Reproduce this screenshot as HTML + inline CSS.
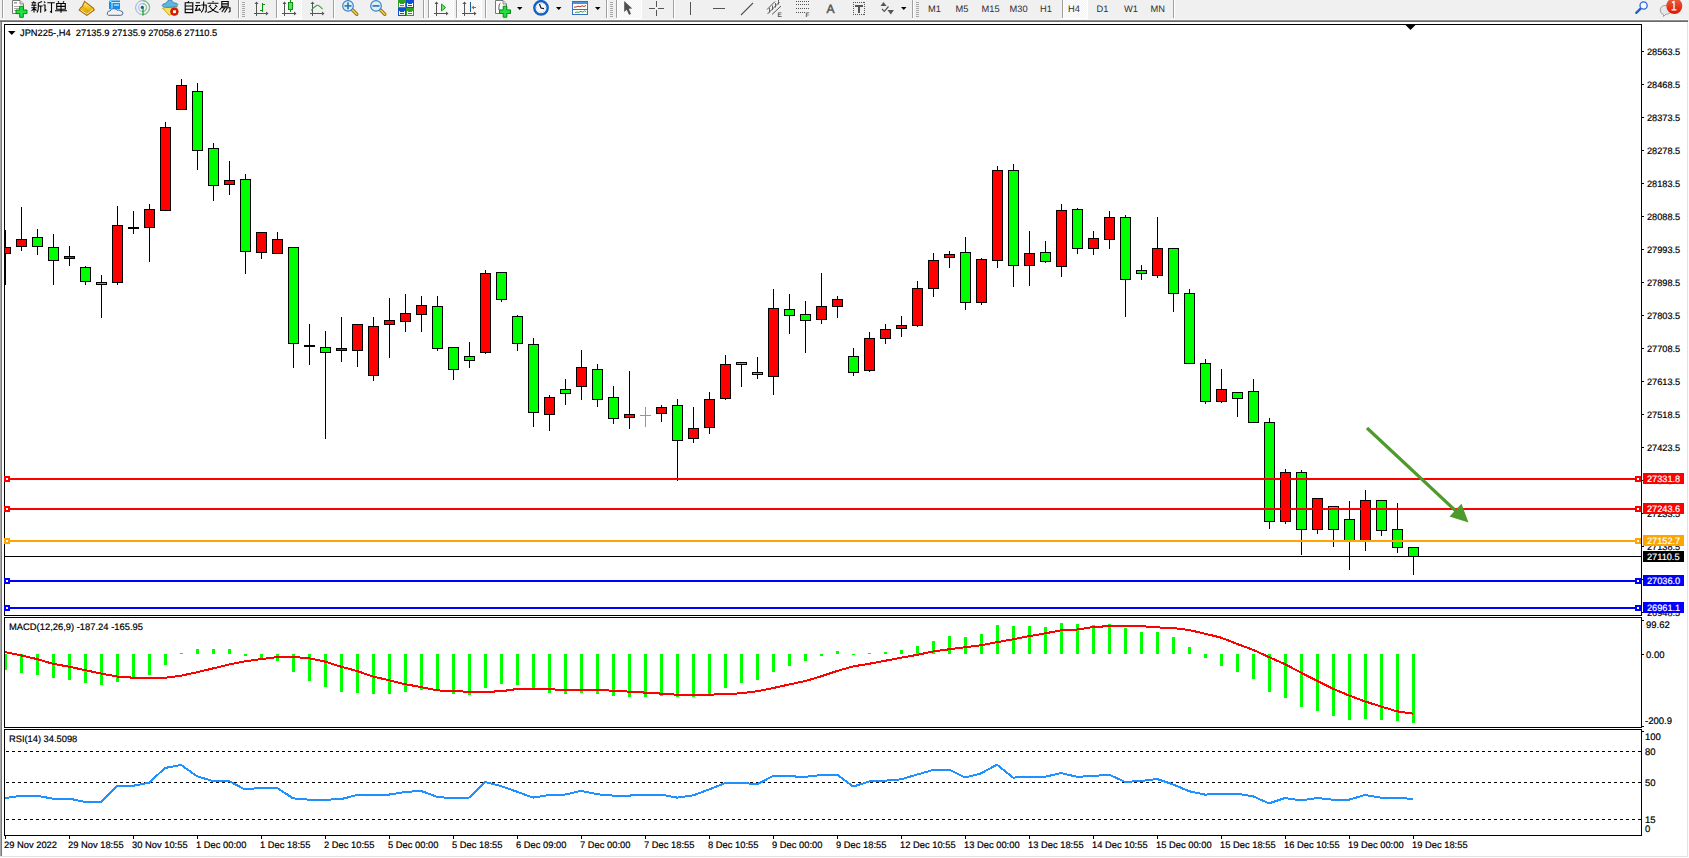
<!DOCTYPE html>
<html><head><meta charset="utf-8"><style>
html,body{margin:0;padding:0;width:1689px;height:858px;overflow:hidden;background:#f0f0f0}
svg{position:absolute;left:0;top:0;font-family:"Liberation Sans", sans-serif}
</style></head><body>
<svg width="1689" height="858" viewBox="0 0 1689 858" shape-rendering="crispEdges" text-rendering="geometricPrecision">
<rect x="0" y="0" width="1689" height="858" fill="#f0f0f0"/>
<rect x="0" y="22" width="1689" height="836" fill="#fcfcfc"/>
<rect x="2" y="22" width="1685" height="834" fill="#ffffff"/>
<rect x="0" y="20" width="1688" height="1" fill="#8c8c8c"/>
<rect x="0" y="21" width="1688" height="1" fill="#6a6a6a"/>
<rect x="0" y="19" width="1688" height="1" fill="#f8f8f8"/>
<rect x="0" y="22" width="1" height="834" fill="#a8a8a8"/>
<rect x="1" y="22" width="1" height="834" fill="#787878"/>
<rect x="1687" y="22" width="1" height="835" fill="#e3e3e3"/>
<rect x="0" y="856" width="1688" height="1" fill="#e3e3e3"/>
<rect x="4" y="24" width="1638" height="1" fill="#000"/>
<rect x="4" y="615" width="1638" height="1" fill="#000"/>
<rect x="4" y="24" width="1" height="592" fill="#000"/>
<rect x="1641" y="24" width="1" height="592" fill="#000"/>
<rect x="4" y="617" width="1638" height="1" fill="#000"/>
<rect x="4" y="727" width="1638" height="1" fill="#000"/>
<rect x="4" y="617" width="1" height="111" fill="#000"/>
<rect x="1641" y="617" width="1" height="111" fill="#000"/>
<rect x="4" y="729" width="1638" height="1" fill="#000"/>
<rect x="4" y="835" width="1638" height="1" fill="#000"/>
<rect x="4" y="729" width="1" height="107" fill="#000"/>
<rect x="1641" y="729" width="1" height="107" fill="#000"/>
<rect x="1642" y="51" width="2" height="1" fill="#000"/>
<text x="1647" y="55" font-size="9.2" fill="#000" stroke="#000" stroke-width="0.2" text-anchor="start" >28563.5</text>
<rect x="1642" y="84" width="2" height="1" fill="#000"/>
<text x="1647" y="88" font-size="9.2" fill="#000" stroke="#000" stroke-width="0.2" text-anchor="start" >28468.5</text>
<rect x="1642" y="117" width="2" height="1" fill="#000"/>
<text x="1647" y="121" font-size="9.2" fill="#000" stroke="#000" stroke-width="0.2" text-anchor="start" >28373.5</text>
<rect x="1642" y="150" width="2" height="1" fill="#000"/>
<text x="1647" y="154" font-size="9.2" fill="#000" stroke="#000" stroke-width="0.2" text-anchor="start" >28278.5</text>
<rect x="1642" y="183" width="2" height="1" fill="#000"/>
<text x="1647" y="187" font-size="9.2" fill="#000" stroke="#000" stroke-width="0.2" text-anchor="start" >28183.5</text>
<rect x="1642" y="216" width="2" height="1" fill="#000"/>
<text x="1647" y="220" font-size="9.2" fill="#000" stroke="#000" stroke-width="0.2" text-anchor="start" >28088.5</text>
<rect x="1642" y="249" width="2" height="1" fill="#000"/>
<text x="1647" y="253" font-size="9.2" fill="#000" stroke="#000" stroke-width="0.2" text-anchor="start" >27993.5</text>
<rect x="1642" y="282" width="2" height="1" fill="#000"/>
<text x="1647" y="286" font-size="9.2" fill="#000" stroke="#000" stroke-width="0.2" text-anchor="start" >27898.5</text>
<rect x="1642" y="315" width="2" height="1" fill="#000"/>
<text x="1647" y="319" font-size="9.2" fill="#000" stroke="#000" stroke-width="0.2" text-anchor="start" >27803.5</text>
<rect x="1642" y="348" width="2" height="1" fill="#000"/>
<text x="1647" y="352" font-size="9.2" fill="#000" stroke="#000" stroke-width="0.2" text-anchor="start" >27708.5</text>
<rect x="1642" y="381" width="2" height="1" fill="#000"/>
<text x="1647" y="385" font-size="9.2" fill="#000" stroke="#000" stroke-width="0.2" text-anchor="start" >27613.5</text>
<rect x="1642" y="414" width="2" height="1" fill="#000"/>
<text x="1647" y="418" font-size="9.2" fill="#000" stroke="#000" stroke-width="0.2" text-anchor="start" >27518.5</text>
<rect x="1642" y="447" width="2" height="1" fill="#000"/>
<text x="1647" y="451" font-size="9.2" fill="#000" stroke="#000" stroke-width="0.2" text-anchor="start" >27423.5</text>
<rect x="1642" y="480" width="2" height="1" fill="#000"/>
<text x="1647" y="484" font-size="9.2" fill="#000" stroke="#000" stroke-width="0.2" text-anchor="start" >27328.5</text>
<rect x="1642" y="513" width="2" height="1" fill="#000"/>
<text x="1647" y="517" font-size="9.2" fill="#000" stroke="#000" stroke-width="0.2" text-anchor="start" >27233.5</text>
<rect x="1642" y="546" width="2" height="1" fill="#000"/>
<text x="1647" y="550" font-size="9.2" fill="#000" stroke="#000" stroke-width="0.2" text-anchor="start" >27138.5</text>
<rect x="1642" y="579" width="2" height="1" fill="#000"/>
<text x="1647" y="583" font-size="9.2" fill="#000" stroke="#000" stroke-width="0.2" text-anchor="start" >27043.5</text>
<rect x="1642" y="612" width="2" height="1" fill="#000"/>
<text x="1647" y="616" font-size="9.2" fill="#000" stroke="#000" stroke-width="0.2" text-anchor="start" >26948.5</text>
<g>
<rect x="5" y="230" width="1" height="55" fill="#000"/>
<rect x="5" y="247" width="6" height="7" fill="#000"/>
<rect x="5" y="248" width="5" height="5" fill="#ff0000"/>
<rect x="21" y="207" width="1" height="44" fill="#000"/>
<rect x="16" y="239" width="11" height="8" fill="#000"/>
<rect x="17" y="240" width="9" height="6" fill="#ff0000"/>
<rect x="37" y="229" width="1" height="26" fill="#000"/>
<rect x="32" y="237" width="11" height="10" fill="#000"/>
<rect x="33" y="238" width="9" height="8" fill="#00ff00"/>
<rect x="53" y="234" width="1" height="51" fill="#000"/>
<rect x="48" y="247" width="11" height="14" fill="#000"/>
<rect x="49" y="248" width="9" height="12" fill="#00ff00"/>
<rect x="69" y="246" width="1" height="20" fill="#000"/>
<rect x="64" y="256" width="11" height="3" fill="#000"/>
<rect x="65" y="257" width="9" height="1" fill="#ff0000"/>
<rect x="85" y="266" width="1" height="19" fill="#000"/>
<rect x="80" y="267" width="11" height="15" fill="#000"/>
<rect x="81" y="268" width="9" height="13" fill="#00ff00"/>
<rect x="101" y="275" width="1" height="43" fill="#000"/>
<rect x="96" y="282" width="11" height="3" fill="#000"/>
<rect x="97" y="283" width="9" height="1" fill="#00ff00"/>
<rect x="117" y="206" width="1" height="79" fill="#000"/>
<rect x="112" y="225" width="11" height="58" fill="#000"/>
<rect x="113" y="226" width="9" height="56" fill="#ff0000"/>
<rect x="133" y="211" width="1" height="23" fill="#000"/>
<rect x="128" y="227" width="11" height="2" fill="#000"/>
<rect x="149" y="204" width="1" height="58" fill="#000"/>
<rect x="144" y="209" width="11" height="19" fill="#000"/>
<rect x="145" y="210" width="9" height="17" fill="#ff0000"/>
<rect x="165" y="122" width="1" height="89" fill="#000"/>
<rect x="160" y="127" width="11" height="84" fill="#000"/>
<rect x="161" y="128" width="9" height="82" fill="#ff0000"/>
<rect x="181" y="79" width="1" height="31" fill="#000"/>
<rect x="176" y="85" width="11" height="25" fill="#000"/>
<rect x="177" y="86" width="9" height="23" fill="#ff0000"/>
<rect x="197" y="83" width="1" height="87" fill="#000"/>
<rect x="192" y="91" width="11" height="60" fill="#000"/>
<rect x="193" y="92" width="9" height="58" fill="#00ff00"/>
<rect x="213" y="143" width="1" height="58" fill="#000"/>
<rect x="208" y="148" width="11" height="38" fill="#000"/>
<rect x="209" y="149" width="9" height="36" fill="#00ff00"/>
<rect x="229" y="161" width="1" height="34" fill="#000"/>
<rect x="224" y="180" width="11" height="5" fill="#000"/>
<rect x="225" y="181" width="9" height="3" fill="#ff0000"/>
<rect x="245" y="174" width="1" height="100" fill="#000"/>
<rect x="240" y="179" width="11" height="73" fill="#000"/>
<rect x="241" y="180" width="9" height="71" fill="#00ff00"/>
<rect x="261" y="232" width="1" height="27" fill="#000"/>
<rect x="256" y="232" width="11" height="21" fill="#000"/>
<rect x="257" y="233" width="9" height="19" fill="#ff0000"/>
<rect x="277" y="232" width="1" height="22" fill="#000"/>
<rect x="272" y="239" width="11" height="15" fill="#000"/>
<rect x="273" y="240" width="9" height="13" fill="#ff0000"/>
<rect x="293" y="247" width="1" height="121" fill="#000"/>
<rect x="288" y="247" width="11" height="97" fill="#000"/>
<rect x="289" y="248" width="9" height="95" fill="#00ff00"/>
<rect x="309" y="324" width="1" height="41" fill="#000"/>
<rect x="304" y="345" width="11" height="2" fill="#000"/>
<rect x="325" y="331" width="1" height="108" fill="#000"/>
<rect x="320" y="347" width="11" height="6" fill="#000"/>
<rect x="321" y="348" width="9" height="4" fill="#00ff00"/>
<rect x="341" y="317" width="1" height="45" fill="#000"/>
<rect x="336" y="348" width="11" height="3" fill="#000"/>
<rect x="337" y="349" width="9" height="1" fill="#ff0000"/>
<rect x="357" y="324" width="1" height="43" fill="#000"/>
<rect x="352" y="324" width="11" height="27" fill="#000"/>
<rect x="353" y="325" width="9" height="25" fill="#ff0000"/>
<rect x="373" y="317" width="1" height="64" fill="#000"/>
<rect x="368" y="326" width="11" height="50" fill="#000"/>
<rect x="369" y="327" width="9" height="48" fill="#ff0000"/>
<rect x="389" y="298" width="1" height="60" fill="#000"/>
<rect x="384" y="320" width="11" height="5" fill="#000"/>
<rect x="385" y="321" width="9" height="3" fill="#ff0000"/>
<rect x="405" y="294" width="1" height="38" fill="#000"/>
<rect x="400" y="313" width="11" height="9" fill="#000"/>
<rect x="401" y="314" width="9" height="7" fill="#ff0000"/>
<rect x="421" y="296" width="1" height="36" fill="#000"/>
<rect x="416" y="305" width="11" height="10" fill="#000"/>
<rect x="417" y="306" width="9" height="8" fill="#ff0000"/>
<rect x="437" y="296" width="1" height="55" fill="#000"/>
<rect x="432" y="306" width="11" height="43" fill="#000"/>
<rect x="433" y="307" width="9" height="41" fill="#00ff00"/>
<rect x="453" y="347" width="1" height="33" fill="#000"/>
<rect x="448" y="347" width="11" height="23" fill="#000"/>
<rect x="449" y="348" width="9" height="21" fill="#00ff00"/>
<rect x="469" y="342" width="1" height="26" fill="#000"/>
<rect x="464" y="356" width="11" height="5" fill="#000"/>
<rect x="465" y="357" width="9" height="3" fill="#00ff00"/>
<rect x="485" y="270" width="1" height="84" fill="#000"/>
<rect x="480" y="273" width="11" height="80" fill="#000"/>
<rect x="481" y="274" width="9" height="78" fill="#ff0000"/>
<rect x="501" y="272" width="1" height="30" fill="#000"/>
<rect x="496" y="272" width="11" height="28" fill="#000"/>
<rect x="497" y="273" width="9" height="26" fill="#00ff00"/>
<rect x="517" y="315" width="1" height="36" fill="#000"/>
<rect x="512" y="316" width="11" height="28" fill="#000"/>
<rect x="513" y="317" width="9" height="26" fill="#00ff00"/>
<rect x="533" y="338" width="1" height="89" fill="#000"/>
<rect x="528" y="344" width="11" height="69" fill="#000"/>
<rect x="529" y="345" width="9" height="67" fill="#00ff00"/>
<rect x="549" y="395" width="1" height="36" fill="#000"/>
<rect x="544" y="397" width="11" height="18" fill="#000"/>
<rect x="545" y="398" width="9" height="16" fill="#ff0000"/>
<rect x="565" y="379" width="1" height="26" fill="#000"/>
<rect x="560" y="389" width="11" height="5" fill="#000"/>
<rect x="561" y="390" width="9" height="3" fill="#00ff00"/>
<rect x="581" y="350" width="1" height="50" fill="#000"/>
<rect x="576" y="367" width="11" height="20" fill="#000"/>
<rect x="577" y="368" width="9" height="18" fill="#ff0000"/>
<rect x="597" y="364" width="1" height="43" fill="#000"/>
<rect x="592" y="369" width="11" height="31" fill="#000"/>
<rect x="593" y="370" width="9" height="29" fill="#00ff00"/>
<rect x="613" y="386" width="1" height="38" fill="#000"/>
<rect x="608" y="397" width="11" height="22" fill="#000"/>
<rect x="609" y="398" width="9" height="20" fill="#00ff00"/>
<rect x="629" y="371" width="1" height="58" fill="#000"/>
<rect x="624" y="414" width="11" height="4" fill="#000"/>
<rect x="625" y="415" width="9" height="2" fill="#ff0000"/>
<rect x="645" y="407" width="1" height="20" fill="#00ff00"/>
<rect x="640" y="415" width="11" height="1" fill="#00ff00"/>
<rect x="661" y="405" width="1" height="17" fill="#000"/>
<rect x="656" y="407" width="11" height="7" fill="#000"/>
<rect x="657" y="408" width="9" height="5" fill="#ff0000"/>
<rect x="677" y="399" width="1" height="82" fill="#000"/>
<rect x="672" y="405" width="11" height="36" fill="#000"/>
<rect x="673" y="406" width="9" height="34" fill="#00ff00"/>
<rect x="693" y="407" width="1" height="36" fill="#000"/>
<rect x="688" y="428" width="11" height="11" fill="#000"/>
<rect x="689" y="429" width="9" height="9" fill="#ff0000"/>
<rect x="709" y="392" width="1" height="42" fill="#000"/>
<rect x="704" y="399" width="11" height="29" fill="#000"/>
<rect x="705" y="400" width="9" height="27" fill="#ff0000"/>
<rect x="725" y="355" width="1" height="45" fill="#000"/>
<rect x="720" y="364" width="11" height="35" fill="#000"/>
<rect x="721" y="365" width="9" height="33" fill="#ff0000"/>
<rect x="741" y="362" width="1" height="25" fill="#000"/>
<rect x="736" y="362" width="11" height="3" fill="#000"/>
<rect x="737" y="363" width="9" height="1" fill="#00ff00"/>
<rect x="757" y="357" width="1" height="22" fill="#000"/>
<rect x="752" y="372" width="11" height="3" fill="#000"/>
<rect x="753" y="373" width="9" height="1" fill="#00ff00"/>
<rect x="773" y="289" width="1" height="106" fill="#000"/>
<rect x="768" y="308" width="11" height="69" fill="#000"/>
<rect x="769" y="309" width="9" height="67" fill="#ff0000"/>
<rect x="789" y="294" width="1" height="40" fill="#000"/>
<rect x="784" y="309" width="11" height="7" fill="#000"/>
<rect x="785" y="310" width="9" height="5" fill="#00ff00"/>
<rect x="805" y="301" width="1" height="52" fill="#000"/>
<rect x="800" y="314" width="11" height="7" fill="#000"/>
<rect x="801" y="315" width="9" height="5" fill="#00ff00"/>
<rect x="821" y="273" width="1" height="51" fill="#000"/>
<rect x="816" y="306" width="11" height="14" fill="#000"/>
<rect x="817" y="307" width="9" height="12" fill="#ff0000"/>
<rect x="837" y="296" width="1" height="22" fill="#000"/>
<rect x="832" y="299" width="11" height="8" fill="#000"/>
<rect x="833" y="300" width="9" height="6" fill="#ff0000"/>
<rect x="853" y="348" width="1" height="28" fill="#000"/>
<rect x="848" y="356" width="11" height="17" fill="#000"/>
<rect x="849" y="357" width="9" height="15" fill="#00ff00"/>
<rect x="869" y="332" width="1" height="40" fill="#000"/>
<rect x="864" y="338" width="11" height="33" fill="#000"/>
<rect x="865" y="339" width="9" height="31" fill="#ff0000"/>
<rect x="885" y="324" width="1" height="20" fill="#000"/>
<rect x="880" y="329" width="11" height="10" fill="#000"/>
<rect x="881" y="330" width="9" height="8" fill="#ff0000"/>
<rect x="901" y="316" width="1" height="21" fill="#000"/>
<rect x="896" y="325" width="11" height="4" fill="#000"/>
<rect x="897" y="326" width="9" height="2" fill="#ff0000"/>
<rect x="917" y="281" width="1" height="46" fill="#000"/>
<rect x="912" y="288" width="11" height="38" fill="#000"/>
<rect x="913" y="289" width="9" height="36" fill="#ff0000"/>
<rect x="933" y="253" width="1" height="44" fill="#000"/>
<rect x="928" y="260" width="11" height="29" fill="#000"/>
<rect x="929" y="261" width="9" height="27" fill="#ff0000"/>
<rect x="949" y="251" width="1" height="17" fill="#000"/>
<rect x="944" y="254" width="11" height="4" fill="#000"/>
<rect x="945" y="255" width="9" height="2" fill="#ff0000"/>
<rect x="965" y="237" width="1" height="73" fill="#000"/>
<rect x="960" y="252" width="11" height="51" fill="#000"/>
<rect x="961" y="253" width="9" height="49" fill="#00ff00"/>
<rect x="981" y="258" width="1" height="47" fill="#000"/>
<rect x="976" y="259" width="11" height="44" fill="#000"/>
<rect x="977" y="260" width="9" height="42" fill="#ff0000"/>
<rect x="997" y="166" width="1" height="102" fill="#000"/>
<rect x="992" y="170" width="11" height="91" fill="#000"/>
<rect x="993" y="171" width="9" height="89" fill="#ff0000"/>
<rect x="1013" y="164" width="1" height="123" fill="#000"/>
<rect x="1008" y="170" width="11" height="96" fill="#000"/>
<rect x="1009" y="171" width="9" height="94" fill="#00ff00"/>
<rect x="1029" y="231" width="1" height="55" fill="#000"/>
<rect x="1024" y="253" width="11" height="13" fill="#000"/>
<rect x="1025" y="254" width="9" height="11" fill="#ff0000"/>
<rect x="1045" y="241" width="1" height="22" fill="#000"/>
<rect x="1040" y="252" width="11" height="10" fill="#000"/>
<rect x="1041" y="253" width="9" height="8" fill="#00ff00"/>
<rect x="1061" y="204" width="1" height="73" fill="#000"/>
<rect x="1056" y="210" width="11" height="57" fill="#000"/>
<rect x="1057" y="211" width="9" height="55" fill="#ff0000"/>
<rect x="1077" y="208" width="1" height="46" fill="#000"/>
<rect x="1072" y="209" width="11" height="40" fill="#000"/>
<rect x="1073" y="210" width="9" height="38" fill="#00ff00"/>
<rect x="1093" y="231" width="1" height="24" fill="#000"/>
<rect x="1088" y="238" width="11" height="11" fill="#000"/>
<rect x="1089" y="239" width="9" height="9" fill="#ff0000"/>
<rect x="1109" y="211" width="1" height="38" fill="#000"/>
<rect x="1104" y="217" width="11" height="23" fill="#000"/>
<rect x="1105" y="218" width="9" height="21" fill="#ff0000"/>
<rect x="1125" y="215" width="1" height="102" fill="#000"/>
<rect x="1120" y="217" width="11" height="63" fill="#000"/>
<rect x="1121" y="218" width="9" height="61" fill="#00ff00"/>
<rect x="1141" y="265" width="1" height="15" fill="#000"/>
<rect x="1136" y="270" width="11" height="4" fill="#000"/>
<rect x="1137" y="271" width="9" height="2" fill="#00ff00"/>
<rect x="1157" y="217" width="1" height="61" fill="#000"/>
<rect x="1152" y="248" width="11" height="28" fill="#000"/>
<rect x="1153" y="249" width="9" height="26" fill="#ff0000"/>
<rect x="1173" y="248" width="1" height="64" fill="#000"/>
<rect x="1168" y="248" width="11" height="46" fill="#000"/>
<rect x="1169" y="249" width="9" height="44" fill="#00ff00"/>
<rect x="1189" y="289" width="1" height="75" fill="#000"/>
<rect x="1184" y="293" width="11" height="71" fill="#000"/>
<rect x="1185" y="294" width="9" height="69" fill="#00ff00"/>
<rect x="1205" y="359" width="1" height="45" fill="#000"/>
<rect x="1200" y="363" width="11" height="39" fill="#000"/>
<rect x="1201" y="364" width="9" height="37" fill="#00ff00"/>
<rect x="1221" y="369" width="1" height="34" fill="#000"/>
<rect x="1216" y="389" width="11" height="13" fill="#000"/>
<rect x="1217" y="390" width="9" height="11" fill="#ff0000"/>
<rect x="1237" y="392" width="1" height="25" fill="#000"/>
<rect x="1232" y="392" width="11" height="7" fill="#000"/>
<rect x="1233" y="393" width="9" height="5" fill="#00ff00"/>
<rect x="1253" y="379" width="1" height="44" fill="#000"/>
<rect x="1248" y="391" width="11" height="32" fill="#000"/>
<rect x="1249" y="392" width="9" height="30" fill="#00ff00"/>
<rect x="1269" y="418" width="1" height="111" fill="#000"/>
<rect x="1264" y="422" width="11" height="100" fill="#000"/>
<rect x="1265" y="423" width="9" height="98" fill="#00ff00"/>
<rect x="1285" y="469" width="1" height="55" fill="#000"/>
<rect x="1280" y="472" width="11" height="50" fill="#000"/>
<rect x="1281" y="473" width="9" height="48" fill="#ff0000"/>
<rect x="1301" y="470" width="1" height="85" fill="#000"/>
<rect x="1296" y="472" width="11" height="58" fill="#000"/>
<rect x="1297" y="473" width="9" height="56" fill="#00ff00"/>
<rect x="1317" y="498" width="1" height="36" fill="#000"/>
<rect x="1312" y="498" width="11" height="32" fill="#000"/>
<rect x="1313" y="499" width="9" height="30" fill="#ff0000"/>
<rect x="1333" y="506" width="1" height="41" fill="#000"/>
<rect x="1328" y="506" width="11" height="24" fill="#000"/>
<rect x="1329" y="507" width="9" height="22" fill="#00ff00"/>
<rect x="1349" y="501" width="1" height="69" fill="#000"/>
<rect x="1344" y="519" width="11" height="22" fill="#000"/>
<rect x="1345" y="520" width="9" height="20" fill="#00ff00"/>
<rect x="1365" y="490" width="1" height="61" fill="#000"/>
<rect x="1360" y="500" width="11" height="41" fill="#000"/>
<rect x="1361" y="501" width="9" height="39" fill="#ff0000"/>
<rect x="1381" y="500" width="1" height="36" fill="#000"/>
<rect x="1376" y="500" width="11" height="31" fill="#000"/>
<rect x="1377" y="501" width="9" height="29" fill="#00ff00"/>
<rect x="1397" y="503" width="1" height="50" fill="#000"/>
<rect x="1392" y="529" width="11" height="19" fill="#000"/>
<rect x="1393" y="530" width="9" height="17" fill="#00ff00"/>
<rect x="1413" y="547" width="1" height="28" fill="#000"/>
<rect x="1408" y="547" width="11" height="10" fill="#000"/>
<rect x="1409" y="548" width="9" height="8" fill="#00ff00"/>
</g>
<rect x="5" y="478" width="1636" height="2" fill="#ff0000"/>
<rect x="4" y="476" width="6" height="6" fill="#ff0000"/>
<rect x="6" y="478" width="2" height="2" fill="#fff"/>
<rect x="1635" y="476" width="6" height="6" fill="#ff0000"/>
<rect x="1637" y="478" width="2" height="2" fill="#fff"/>
<rect x="5" y="508" width="1636" height="2" fill="#ff0000"/>
<rect x="4" y="506" width="6" height="6" fill="#ff0000"/>
<rect x="6" y="508" width="2" height="2" fill="#fff"/>
<rect x="1635" y="506" width="6" height="6" fill="#ff0000"/>
<rect x="1637" y="508" width="2" height="2" fill="#fff"/>
<rect x="5" y="540" width="1636" height="2" fill="#ffa500"/>
<rect x="4" y="538" width="6" height="6" fill="#ffa500"/>
<rect x="6" y="540" width="2" height="2" fill="#fff"/>
<rect x="1635" y="538" width="6" height="6" fill="#ffa500"/>
<rect x="1637" y="540" width="2" height="2" fill="#fff"/>
<rect x="5" y="556" width="1636" height="1" fill="#000"/>
<rect x="5" y="580" width="1636" height="2" fill="#0000ff"/>
<rect x="4" y="578" width="6" height="6" fill="#0000ff"/>
<rect x="6" y="580" width="2" height="2" fill="#fff"/>
<rect x="1635" y="578" width="6" height="6" fill="#0000ff"/>
<rect x="1637" y="580" width="2" height="2" fill="#fff"/>
<rect x="5" y="607" width="1636" height="2" fill="#0000ff"/>
<rect x="4" y="605" width="6" height="6" fill="#0000ff"/>
<rect x="6" y="607" width="2" height="2" fill="#fff"/>
<rect x="1635" y="605" width="6" height="6" fill="#0000ff"/>
<rect x="1637" y="607" width="2" height="2" fill="#fff"/>
<rect x="1643" y="473" width="41" height="11" fill="#ff0000"/>
<text x="1647" y="482" font-size="9.2" fill="#fff" stroke="#fff" stroke-width="0.2" text-anchor="start" >27331.8</text>
<rect x="1643" y="503" width="41" height="11" fill="#ff0000"/>
<text x="1647" y="512" font-size="9.2" fill="#fff" stroke="#fff" stroke-width="0.2" text-anchor="start" >27243.6</text>
<rect x="1643" y="535" width="41" height="11" fill="#ffa500"/>
<text x="1647" y="544" font-size="9.2" fill="#fff" stroke="#fff" stroke-width="0.2" text-anchor="start" >27152.7</text>
<rect x="1643" y="551" width="41" height="11" fill="#000000"/>
<text x="1647" y="560" font-size="9.2" fill="#fff" stroke="#fff" stroke-width="0.2" text-anchor="start" >27110.5</text>
<rect x="1643" y="575" width="41" height="11" fill="#0000ff"/>
<text x="1647" y="584" font-size="9.2" fill="#fff" stroke="#fff" stroke-width="0.2" text-anchor="start" >27036.0</text>
<rect x="1643" y="602" width="41" height="11" fill="#0000ff"/>
<text x="1647" y="611" font-size="9.2" fill="#fff" stroke="#fff" stroke-width="0.2" text-anchor="start" >26961.1</text>
<g shape-rendering="geometricPrecision">
<line x1="1367" y1="428" x2="1458" y2="513" stroke="#4e9a2c" stroke-width="3.2"/>
<polygon points="1468.5,522.5 1449.5,516.5 1461.5,503.8" fill="#4e9a2c"/>
</g>
<polygon points="1405.5,25 1415.5,25 1410.5,30" fill="#000" shape-rendering="geometricPrecision"/>
<rect x="5" y="654" width="2" height="16" fill="#00ff00"/>
<rect x="20" y="654" width="3" height="19" fill="#00ff00"/>
<rect x="36" y="654" width="3" height="21" fill="#00ff00"/>
<rect x="52" y="654" width="3" height="24" fill="#00ff00"/>
<rect x="68" y="654" width="3" height="26" fill="#00ff00"/>
<rect x="84" y="654" width="3" height="29" fill="#00ff00"/>
<rect x="100" y="654" width="3" height="31" fill="#00ff00"/>
<rect x="116" y="654" width="3" height="28" fill="#00ff00"/>
<rect x="132" y="654" width="3" height="25" fill="#00ff00"/>
<rect x="148" y="654" width="3" height="21" fill="#00ff00"/>
<rect x="164" y="654" width="3" height="11" fill="#00ff00"/>
<rect x="180" y="653" width="3" height="1" fill="#00ff00"/>
<rect x="196" y="649" width="3" height="5" fill="#00ff00"/>
<rect x="212" y="649" width="3" height="5" fill="#00ff00"/>
<rect x="228" y="649" width="3" height="5" fill="#00ff00"/>
<rect x="244" y="654" width="3" height="2" fill="#00ff00"/>
<rect x="260" y="654" width="3" height="6" fill="#00ff00"/>
<rect x="276" y="654" width="3" height="7" fill="#00ff00"/>
<rect x="292" y="654" width="3" height="18" fill="#00ff00"/>
<rect x="308" y="654" width="3" height="27" fill="#00ff00"/>
<rect x="324" y="654" width="3" height="33" fill="#00ff00"/>
<rect x="340" y="654" width="3" height="38" fill="#00ff00"/>
<rect x="356" y="654" width="3" height="39" fill="#00ff00"/>
<rect x="372" y="654" width="3" height="40" fill="#00ff00"/>
<rect x="388" y="654" width="3" height="40" fill="#00ff00"/>
<rect x="404" y="654" width="3" height="38" fill="#00ff00"/>
<rect x="420" y="654" width="3" height="36" fill="#00ff00"/>
<rect x="436" y="654" width="3" height="37" fill="#00ff00"/>
<rect x="452" y="654" width="3" height="40" fill="#00ff00"/>
<rect x="468" y="654" width="3" height="41" fill="#00ff00"/>
<rect x="484" y="654" width="3" height="34" fill="#00ff00"/>
<rect x="500" y="654" width="3" height="30" fill="#00ff00"/>
<rect x="516" y="654" width="3" height="31" fill="#00ff00"/>
<rect x="532" y="654" width="3" height="35" fill="#00ff00"/>
<rect x="548" y="654" width="3" height="39" fill="#00ff00"/>
<rect x="564" y="654" width="3" height="40" fill="#00ff00"/>
<rect x="580" y="654" width="3" height="39" fill="#00ff00"/>
<rect x="596" y="654" width="3" height="40" fill="#00ff00"/>
<rect x="612" y="654" width="3" height="42" fill="#00ff00"/>
<rect x="628" y="654" width="3" height="43" fill="#00ff00"/>
<rect x="644" y="654" width="3" height="43" fill="#00ff00"/>
<rect x="660" y="654" width="3" height="42" fill="#00ff00"/>
<rect x="676" y="654" width="3" height="43" fill="#00ff00"/>
<rect x="692" y="654" width="3" height="43" fill="#00ff00"/>
<rect x="708" y="654" width="3" height="40" fill="#00ff00"/>
<rect x="724" y="654" width="3" height="34" fill="#00ff00"/>
<rect x="740" y="654" width="3" height="29" fill="#00ff00"/>
<rect x="756" y="654" width="3" height="26" fill="#00ff00"/>
<rect x="772" y="654" width="3" height="18" fill="#00ff00"/>
<rect x="788" y="654" width="3" height="12" fill="#00ff00"/>
<rect x="804" y="654" width="3" height="7" fill="#00ff00"/>
<rect x="820" y="654" width="3" height="2" fill="#00ff00"/>
<rect x="836" y="651" width="3" height="3" fill="#00ff00"/>
<rect x="852" y="654" width="3" height="1" fill="#00ff00"/>
<rect x="868" y="653" width="3" height="1" fill="#00ff00"/>
<rect x="884" y="652" width="3" height="2" fill="#00ff00"/>
<rect x="900" y="650" width="3" height="4" fill="#00ff00"/>
<rect x="916" y="646" width="3" height="8" fill="#00ff00"/>
<rect x="932" y="641" width="3" height="13" fill="#00ff00"/>
<rect x="948" y="636" width="3" height="18" fill="#00ff00"/>
<rect x="964" y="637" width="3" height="17" fill="#00ff00"/>
<rect x="980" y="634" width="3" height="20" fill="#00ff00"/>
<rect x="996" y="625" width="3" height="29" fill="#00ff00"/>
<rect x="1012" y="626" width="3" height="28" fill="#00ff00"/>
<rect x="1028" y="626" width="3" height="28" fill="#00ff00"/>
<rect x="1044" y="627" width="3" height="27" fill="#00ff00"/>
<rect x="1060" y="623" width="3" height="31" fill="#00ff00"/>
<rect x="1076" y="624" width="3" height="30" fill="#00ff00"/>
<rect x="1092" y="625" width="3" height="29" fill="#00ff00"/>
<rect x="1108" y="624" width="3" height="30" fill="#00ff00"/>
<rect x="1124" y="628" width="3" height="26" fill="#00ff00"/>
<rect x="1140" y="632" width="3" height="22" fill="#00ff00"/>
<rect x="1156" y="632" width="3" height="22" fill="#00ff00"/>
<rect x="1172" y="637" width="3" height="17" fill="#00ff00"/>
<rect x="1188" y="647" width="3" height="7" fill="#00ff00"/>
<rect x="1204" y="654" width="3" height="4" fill="#00ff00"/>
<rect x="1220" y="654" width="3" height="12" fill="#00ff00"/>
<rect x="1236" y="654" width="3" height="18" fill="#00ff00"/>
<rect x="1252" y="654" width="3" height="25" fill="#00ff00"/>
<rect x="1268" y="654" width="3" height="38" fill="#00ff00"/>
<rect x="1284" y="654" width="3" height="44" fill="#00ff00"/>
<rect x="1300" y="654" width="3" height="53" fill="#00ff00"/>
<rect x="1316" y="654" width="3" height="57" fill="#00ff00"/>
<rect x="1332" y="654" width="3" height="62" fill="#00ff00"/>
<rect x="1348" y="654" width="3" height="66" fill="#00ff00"/>
<rect x="1364" y="654" width="3" height="65" fill="#00ff00"/>
<rect x="1380" y="654" width="3" height="66" fill="#00ff00"/>
<rect x="1396" y="654" width="3" height="67" fill="#00ff00"/>
<rect x="1412" y="654" width="3" height="69" fill="#00ff00"/>
<polyline points="5,652.0 21,655.4 37,659.1 53,663.8 69,666.7 85,670.1 101,673.5 117,676.5 133,677.7 149,677.7 165,677.7 181,675.7 197,672.3 213,668.4 229,664.5 245,661.3 261,659.1 277,657.1 293,656.9 309,658.3 325,661.6 341,666.7 357,671.0 373,676.5 389,680.3 405,684.2 421,687.0 437,690.4 453,691.0 469,691.8 485,691.8 501,691.3 517,689.0 533,689.0 549,689.2 565,690.0 581,689.7 597,689.7 613,690.8 629,691.6 645,692.6 661,693.6 677,694.7 693,694.7 709,694.7 725,694.1 741,693.3 757,691.3 773,688.1 789,684.5 805,681.1 821,676.4 837,671.0 853,666.4 869,663.8 885,660.8 901,657.7 917,654.9 933,651.5 949,649.3 965,647.3 981,645.2 997,642.2 1013,639.3 1029,636.2 1045,633.4 1061,630.3 1077,629.5 1093,627.1 1109,626.1 1125,625.7 1141,626.1 1157,627.4 1173,628.0 1189,630.0 1205,633.7 1221,637.6 1237,643.9 1253,649.8 1269,657.1 1285,664.2 1301,672.6 1317,680.8 1333,688.7 1349,695.5 1365,701.4 1381,706.5 1397,711.3 1413,713.6" fill="none" stroke="#ff0000" stroke-width="2" stroke-linejoin="round"/>
<text x="9" y="630" font-size="9.4" fill="#000" stroke="#000" stroke-width="0.2" text-anchor="start" >MACD(12,26,9) -187.24 -165.95</text>
<rect x="1642" y="620" width="2" height="1" fill="#000"/>
<text x="1646" y="628" font-size="9.5" fill="#000" stroke="#000" stroke-width="0.2" text-anchor="start" >99.62</text>
<rect x="1642" y="654" width="2" height="1" fill="#000"/>
<text x="1646" y="658" font-size="9.5" fill="#000" stroke="#000" stroke-width="0.2" text-anchor="start" >0.00</text>
<rect x="1642" y="726" width="2" height="1" fill="#000"/>
<text x="1645" y="724" font-size="9.5" fill="#000" stroke="#000" stroke-width="0.2" text-anchor="start" >-200.9</text>
<line x1="6" y1="751.5" x2="1641" y2="751.5" stroke="#000" stroke-width="1" stroke-dasharray="3,3"/>
<line x1="6" y1="782.5" x2="1641" y2="782.5" stroke="#000" stroke-width="1" stroke-dasharray="3,3"/>
<line x1="6" y1="819.5" x2="1641" y2="819.5" stroke="#000" stroke-width="1" stroke-dasharray="3,3"/>
<polyline points="5,798.0 21,795.9 37,795.9 53,798.6 69,798.6 85,801.9 101,801.9 117,786.1 133,785.8 149,782.7 165,768.0 181,764.9 197,776.3 213,781.0 229,781.0 245,789.5 261,787.8 277,787.8 293,798.3 309,799.7 325,799.7 341,799.2 357,795.0 373,794.6 389,794.6 405,792.0 421,790.9 437,796.8 453,798.5 469,797.6 485,781.9 501,786.1 517,791.7 533,797.6 549,795.0 565,794.6 581,790.9 597,794.2 613,795.6 629,795.6 645,794.6 661,794.6 677,797.6 693,795.4 709,789.5 725,783.2 741,782.7 757,784.4 773,776.0 789,776.3 805,776.8 821,775.1 837,774.6 853,786.6 869,781.5 885,780.7 901,779.3 917,774.6 933,770.0 949,769.5 965,777.6 981,773.4 997,764.6 1013,777.6 1029,776.8 1045,776.8 1061,773.1 1077,776.8 1093,776.0 1109,774.6 1125,781.9 1141,781.0 1157,779.0 1173,784.4 1189,791.2 1205,794.6 1221,793.7 1237,793.7 1253,796.3 1269,803.4 1285,798.0 1301,800.5 1317,798.0 1333,799.7 1349,799.7 1365,795.0 1381,797.6 1397,798.0 1413,798.8" fill="none" stroke="#1e90ff" stroke-width="2" stroke-linejoin="round"/>
<text x="9" y="742" font-size="9.3" fill="#000" stroke="#000" stroke-width="0.2" text-anchor="start" >RSI(14) 34.5098</text>
<text x="1645" y="740" font-size="9.5" fill="#000" stroke="#000" stroke-width="0.2" text-anchor="start" >100</text>
<text x="1645" y="755" font-size="9.5" fill="#000" stroke="#000" stroke-width="0.2" text-anchor="start" >80</text>
<text x="1645" y="786" font-size="9.5" fill="#000" stroke="#000" stroke-width="0.2" text-anchor="start" >50</text>
<text x="1645" y="823" font-size="9.5" fill="#000" stroke="#000" stroke-width="0.2" text-anchor="start" >15</text>
<text x="1645" y="832" font-size="9.5" fill="#000" stroke="#000" stroke-width="0.2" text-anchor="start" >0</text>
<rect x="1642" y="731" width="2" height="1" fill="#000"/>
<rect x="5" y="836" width="1" height="3" fill="#000"/>
<text x="4" y="848" font-size="9.35" fill="#000" stroke="#000" stroke-width="0.2" text-anchor="start" >29 Nov 2022</text>
<rect x="69" y="836" width="1" height="3" fill="#000"/>
<text x="68" y="848" font-size="9.35" fill="#000" stroke="#000" stroke-width="0.2" text-anchor="start" >29 Nov 18:55</text>
<rect x="133" y="836" width="1" height="3" fill="#000"/>
<text x="132" y="848" font-size="9.35" fill="#000" stroke="#000" stroke-width="0.2" text-anchor="start" >30 Nov 10:55</text>
<rect x="197" y="836" width="1" height="3" fill="#000"/>
<text x="196" y="848" font-size="9.35" fill="#000" stroke="#000" stroke-width="0.2" text-anchor="start" >1 Dec 00:00</text>
<rect x="261" y="836" width="1" height="3" fill="#000"/>
<text x="260" y="848" font-size="9.35" fill="#000" stroke="#000" stroke-width="0.2" text-anchor="start" >1 Dec 18:55</text>
<rect x="325" y="836" width="1" height="3" fill="#000"/>
<text x="324" y="848" font-size="9.35" fill="#000" stroke="#000" stroke-width="0.2" text-anchor="start" >2 Dec 10:55</text>
<rect x="389" y="836" width="1" height="3" fill="#000"/>
<text x="388" y="848" font-size="9.35" fill="#000" stroke="#000" stroke-width="0.2" text-anchor="start" >5 Dec 00:00</text>
<rect x="453" y="836" width="1" height="3" fill="#000"/>
<text x="452" y="848" font-size="9.35" fill="#000" stroke="#000" stroke-width="0.2" text-anchor="start" >5 Dec 18:55</text>
<rect x="517" y="836" width="1" height="3" fill="#000"/>
<text x="516" y="848" font-size="9.35" fill="#000" stroke="#000" stroke-width="0.2" text-anchor="start" >6 Dec 09:00</text>
<rect x="581" y="836" width="1" height="3" fill="#000"/>
<text x="580" y="848" font-size="9.35" fill="#000" stroke="#000" stroke-width="0.2" text-anchor="start" >7 Dec 00:00</text>
<rect x="645" y="836" width="1" height="3" fill="#000"/>
<text x="644" y="848" font-size="9.35" fill="#000" stroke="#000" stroke-width="0.2" text-anchor="start" >7 Dec 18:55</text>
<rect x="709" y="836" width="1" height="3" fill="#000"/>
<text x="708" y="848" font-size="9.35" fill="#000" stroke="#000" stroke-width="0.2" text-anchor="start" >8 Dec 10:55</text>
<rect x="773" y="836" width="1" height="3" fill="#000"/>
<text x="772" y="848" font-size="9.35" fill="#000" stroke="#000" stroke-width="0.2" text-anchor="start" >9 Dec 00:00</text>
<rect x="837" y="836" width="1" height="3" fill="#000"/>
<text x="836" y="848" font-size="9.35" fill="#000" stroke="#000" stroke-width="0.2" text-anchor="start" >9 Dec 18:55</text>
<rect x="901" y="836" width="1" height="3" fill="#000"/>
<text x="900" y="848" font-size="9.35" fill="#000" stroke="#000" stroke-width="0.2" text-anchor="start" >12 Dec 10:55</text>
<rect x="965" y="836" width="1" height="3" fill="#000"/>
<text x="964" y="848" font-size="9.35" fill="#000" stroke="#000" stroke-width="0.2" text-anchor="start" >13 Dec 00:00</text>
<rect x="1029" y="836" width="1" height="3" fill="#000"/>
<text x="1028" y="848" font-size="9.35" fill="#000" stroke="#000" stroke-width="0.2" text-anchor="start" >13 Dec 18:55</text>
<rect x="1093" y="836" width="1" height="3" fill="#000"/>
<text x="1092" y="848" font-size="9.35" fill="#000" stroke="#000" stroke-width="0.2" text-anchor="start" >14 Dec 10:55</text>
<rect x="1157" y="836" width="1" height="3" fill="#000"/>
<text x="1156" y="848" font-size="9.35" fill="#000" stroke="#000" stroke-width="0.2" text-anchor="start" >15 Dec 00:00</text>
<rect x="1221" y="836" width="1" height="3" fill="#000"/>
<text x="1220" y="848" font-size="9.35" fill="#000" stroke="#000" stroke-width="0.2" text-anchor="start" >15 Dec 18:55</text>
<rect x="1285" y="836" width="1" height="3" fill="#000"/>
<text x="1284" y="848" font-size="9.35" fill="#000" stroke="#000" stroke-width="0.2" text-anchor="start" >16 Dec 10:55</text>
<rect x="1349" y="836" width="1" height="3" fill="#000"/>
<text x="1348" y="848" font-size="9.35" fill="#000" stroke="#000" stroke-width="0.2" text-anchor="start" >19 Dec 00:00</text>
<rect x="1413" y="836" width="1" height="3" fill="#000"/>
<text x="1412" y="848" font-size="9.35" fill="#000" stroke="#000" stroke-width="0.2" text-anchor="start" >19 Dec 18:55</text>
<polygon points="8,31 15.5,31 11.75,35" fill="#000" shape-rendering="geometricPrecision"/>
<text x="20" y="36" font-size="9.3" fill="#000" stroke="#000" stroke-width="0.2" text-anchor="start" xml:space="preserve">JPN225-,H4  27135.9 27135.9 27058.6 27110.5</text>
<defs><pattern id="chk" width="2" height="2" patternUnits="userSpaceOnUse"><rect width="2" height="2" fill="#f4f4f4"/><rect width="1" height="1" fill="#fdfdfd"/><rect x="1" y="1" width="1" height="1" fill="#fdfdfd"/></pattern><linearGradient id="gold" x1="0" y1="0" x2="0" y2="1"><stop offset="0" stop-color="#fff0a0"/><stop offset="0.5" stop-color="#f0c010"/><stop offset="1" stop-color="#d09010"/></linearGradient><linearGradient id="badge" x1="0" y1="0" x2="0" y2="1"><stop offset="0" stop-color="#f06040"/><stop offset="1" stop-color="#d81800"/></linearGradient></defs>
<rect x="2" y="0" width="1" height="18" fill="#a0a0a0"/>
<rect x="3" y="0" width="1" height="18" fill="#ffffff"/>
<rect x="277" y="0" width="24" height="18" fill="url(#chk)"/>
<rect x="301" y="0" width="1" height="19" fill="#fff"/>
<rect x="276" y="18" width="26" height="1" fill="#fff"/>
<rect x="429" y="0" width="24" height="18" fill="url(#chk)"/>
<rect x="453" y="0" width="1" height="19" fill="#fff"/>
<rect x="428" y="18" width="26" height="1" fill="#fff"/>
<rect x="457" y="0" width="24" height="18" fill="url(#chk)"/>
<rect x="481" y="0" width="1" height="19" fill="#fff"/>
<rect x="456" y="18" width="26" height="1" fill="#fff"/>
<rect x="617" y="0" width="24" height="18" fill="url(#chk)"/>
<rect x="641" y="0" width="1" height="19" fill="#fff"/>
<rect x="616" y="18" width="26" height="1" fill="#fff"/>
<rect x="1063" y="0" width="24" height="18" fill="url(#chk)"/>
<rect x="1087" y="0" width="1" height="19" fill="#fff"/>
<rect x="1062" y="18" width="26" height="1" fill="#fff"/>
<rect x="238" y="0" width="1" height="18" fill="#a0a0a0"/>
<rect x="239" y="0" width="1" height="18" fill="#ffffff"/>
<rect x="276" y="0" width="1" height="18" fill="#a0a0a0"/>
<rect x="277" y="0" width="1" height="18" fill="#ffffff"/>
<rect x="333" y="0" width="1" height="18" fill="#a0a0a0"/>
<rect x="334" y="0" width="1" height="18" fill="#ffffff"/>
<rect x="423" y="0" width="1" height="18" fill="#a0a0a0"/>
<rect x="424" y="0" width="1" height="18" fill="#ffffff"/>
<rect x="428" y="0" width="1" height="18" fill="#a0a0a0"/>
<rect x="429" y="0" width="1" height="18" fill="#ffffff"/>
<rect x="456" y="0" width="1" height="18" fill="#a0a0a0"/>
<rect x="457" y="0" width="1" height="18" fill="#ffffff"/>
<rect x="485" y="0" width="1" height="18" fill="#a0a0a0"/>
<rect x="486" y="0" width="1" height="18" fill="#ffffff"/>
<rect x="606" y="0" width="1" height="18" fill="#a0a0a0"/>
<rect x="607" y="0" width="1" height="18" fill="#ffffff"/>
<rect x="616" y="0" width="1" height="18" fill="#a0a0a0"/>
<rect x="617" y="0" width="1" height="18" fill="#ffffff"/>
<rect x="673" y="0" width="1" height="18" fill="#a0a0a0"/>
<rect x="674" y="0" width="1" height="18" fill="#ffffff"/>
<rect x="912" y="0" width="1" height="18" fill="#a0a0a0"/>
<rect x="913" y="0" width="1" height="18" fill="#ffffff"/>
<rect x="1062" y="0" width="1" height="18" fill="#a0a0a0"/>
<rect x="1063" y="0" width="1" height="18" fill="#ffffff"/>
<rect x="1173" y="0" width="1" height="18" fill="#a0a0a0"/>
<rect x="1174" y="0" width="1" height="18" fill="#ffffff"/>
<rect x="242" y="2" width="3" height="1" fill="#a8a8a8"/>
<rect x="242" y="4" width="3" height="1" fill="#a8a8a8"/>
<rect x="242" y="6" width="3" height="1" fill="#a8a8a8"/>
<rect x="242" y="8" width="3" height="1" fill="#a8a8a8"/>
<rect x="242" y="10" width="3" height="1" fill="#a8a8a8"/>
<rect x="242" y="12" width="3" height="1" fill="#a8a8a8"/>
<rect x="242" y="14" width="3" height="1" fill="#a8a8a8"/>
<rect x="242" y="16" width="3" height="1" fill="#a8a8a8"/>
<rect x="610" y="2" width="3" height="1" fill="#a8a8a8"/>
<rect x="610" y="4" width="3" height="1" fill="#a8a8a8"/>
<rect x="610" y="6" width="3" height="1" fill="#a8a8a8"/>
<rect x="610" y="8" width="3" height="1" fill="#a8a8a8"/>
<rect x="610" y="10" width="3" height="1" fill="#a8a8a8"/>
<rect x="610" y="12" width="3" height="1" fill="#a8a8a8"/>
<rect x="610" y="14" width="3" height="1" fill="#a8a8a8"/>
<rect x="610" y="16" width="3" height="1" fill="#a8a8a8"/>
<rect x="916" y="2" width="3" height="1" fill="#a8a8a8"/>
<rect x="916" y="4" width="3" height="1" fill="#a8a8a8"/>
<rect x="916" y="6" width="3" height="1" fill="#a8a8a8"/>
<rect x="916" y="8" width="3" height="1" fill="#a8a8a8"/>
<rect x="916" y="10" width="3" height="1" fill="#a8a8a8"/>
<rect x="916" y="12" width="3" height="1" fill="#a8a8a8"/>
<rect x="916" y="14" width="3" height="1" fill="#a8a8a8"/>
<rect x="916" y="16" width="3" height="1" fill="#a8a8a8"/>
<g shape-rendering="geometricPrecision">
<path d="M12.5,0.5 H20 L23.5,4 V13.5 H12.5 Z" fill="#fff" stroke="#777" stroke-width="1"/>
<path d="M20,0.5 V4 H23.5" fill="#ddd" stroke="#777" stroke-width="0.8"/>
<rect x="14" y="2" width="3" height="1.5" fill="#999"/>
<rect x="14" y="6" width="6" height="1" fill="#aaa"/>
<rect x="14" y="8" width="6" height="1" fill="#aaa"/>
<rect x="14" y="10" width="6" height="1" fill="#aaa"/>
<path d="M19.7,6.300000000000001 h3.6 v3.7 h3.7 v3.6 h-3.7 v3.7 h-3.6 v-3.7 h-3.7 v-3.6 h3.7 Z" fill="#20e040" stroke="#078a10" stroke-width="1"/>
<path d="M33.5,1.3 L34,2.3 M31.5,2.8 H36.2 M32.5,3.6 L33,4.6 M35.2,3.6 L34.7,4.6 M31.3,5.3 H36.5 M31.3,7.8 H36.5 M34,5.3 V12.5 M33.8,8.5 L31.5,11 M34.2,8.8 L36.5,10.5 M42,1.5 L38.3,3 V8 Q38.2,11 37,12.5 M38.3,6 H42.7 M40.7,6 V12.7" fill="none" stroke="#000" stroke-width="1.1" stroke-linecap="butt"/>
<path d="M44,1.5 L45.2,2.8 M43.3,5 H45 V11 L46.3,9.7 M47.3,2.8 H54.7 M51.5,2.8 V12.3 L50,11.5" fill="none" stroke="#000" stroke-width="1.1" stroke-linecap="butt"/>
<path d="M58,1.2 L59,2.6 M64,1.2 L63,2.6 M56.7,3.5 H65.3 V9.3 H56.7 Z M56.7,6.4 H65.3 M61,3.5 V12.7 M55,10.8 H67" fill="none" stroke="#000" stroke-width="1.1" stroke-linecap="butt"/>
<path d="M84.6,1.4 L93.6,8.4 L94.2,10 L86.8,15.4 L79.2,10 Q80.5,7.5 82.2,6.5 Z" fill="url(#gold)" stroke="#a86a10" stroke-width="1.1"/>
<path d="M80.6,10 L86.8,14 L93,9.6" fill="none" stroke="#f8e8a8" stroke-width="1"/>
<path d="M82.5,6.5 L89.5,11.8" fill="none" stroke="#c89010" stroke-width="0.6"/>
<path d="M109,0.5 H120 V9 H109 Z" fill="#0a90f0"/>
<path d="M109,0.5 L112,2.5 H120 M112,2.5 V9" fill="none" stroke="#e8f6ff" stroke-width="0.9"/>
<rect x="114" y="4.5" width="5" height="1" fill="#fff"/>
<path d="M108.5,15.3 Q106.5,15 107.5,12.3 Q108,10.8 110,11 Q111,8.3 114,8.6 Q116.3,8.7 117,10.3 Q119,9.3 120.5,10.8 Q123.5,11.5 122.8,13.8 Q122.5,15.3 120.5,15.3 Z" fill="#eef0f6" stroke="#4a6498" stroke-width="1"/>
<circle cx="142.6" cy="7.6" r="7" fill="none" stroke="#8eb0dc" stroke-width="1"/>
<path d="M142.6,0.6 A7,7 0 0 1 142.6,14.6" fill="none" stroke="#7cbf80" stroke-width="1.1"/>
<circle cx="142.6" cy="7.6" r="4" fill="none" stroke="#9cbce4" stroke-width="1"/>
<path d="M142.6,3.6 A4,4 0 0 1 142.6,11.6" fill="none" stroke="#90c890" stroke-width="1.1"/>
<circle cx="142.3" cy="7.4" r="1.6" fill="#2050c0"/>
<path d="M143,8 V15.5" stroke="#20a020" stroke-width="1.3"/>
<path d="M162.5,8 L177.5,6.5 L169.5,15.6 Z" fill="#f6e060" stroke="#c8a020" stroke-width="0.9"/>
<path d="M162.2,5.6 Q162.5,3.5 166,3.2 Q167.5,0 170,0 Q172.5,0 173.5,2.8 Q177.8,2.8 177.8,4.6 Q177.5,6.8 170,7.3 Q162.5,7.5 162.2,5.6 Z" fill="#60b4e0" stroke="#3a88b0" stroke-width="0.9"/>
<circle cx="174.4" cy="11.6" r="3.9" fill="#d82000" stroke="#b01800" stroke-width="0.6"/>
<rect x="173" y="10.3" width="2.9" height="2.8" fill="#fff"/>
<path d="M188.8,1.2 L187.8,2.6 M185.2,2.8 H192.8 V12.6 H185.2 Z M185.2,6 H192.8 M185.2,9.2 H192.8" fill="none" stroke="#000" stroke-width="1.1" stroke-linecap="butt"/>
<path d="M195.8,2.8 H200 M195.2,5.5 H200.6 M197.5,5.5 L195.6,10.5 L200.2,9.6 M199,8 L200.5,11 M201.3,5 H206.2 V11.5 L204.8,12.3 M203.7,1.5 V7 Q203.5,10.5 201.2,12.5" fill="none" stroke="#000" stroke-width="1.1" stroke-linecap="butt"/>
<path d="M213,1 V2.2 M207.5,3.3 H218.5 M210.8,4.8 L208.8,6.8 M215.2,4.8 L217.2,6.8 M210.2,7 Q213,11.5 218.5,12.5 M215.8,7 Q213,11.5 207.5,12.5" fill="none" stroke="#000" stroke-width="1.1" stroke-linecap="butt"/>
<path d="M221.8,1.5 H228.2 V6.3 H221.8 Z M221.8,3.9 H228.2 M221.5,7.8 H230 V11.5 L228.6,12.4 M222.5,6.5 L219.5,10 M224.6,8.2 L221.8,12 M227.2,8.2 L224.5,12.5" fill="none" stroke="#000" stroke-width="1.1" stroke-linecap="butt"/>
</g>
<rect x="256" y="2" width="1" height="14" fill="#555"/>
<rect x="254" y="13" width="14" height="1" fill="#555"/>
<path d="M254.5,4 L256.5,1.5 L258.5,4 Z" fill="#555" shape-rendering="geometricPrecision"/>
<path d="M266,11.5 L268.5,13.5 L266,15.5 Z" fill="#555" shape-rendering="geometricPrecision"/>
<rect x="262" y="3" width="1" height="9" fill="#109010"/><rect x="262" y="4" width="3" height="1" fill="#109010"/><rect x="260" y="10" width="2" height="1" fill="#109010"/>
<rect x="284" y="2" width="1" height="14" fill="#555"/>
<rect x="282" y="13" width="14" height="1" fill="#555"/>
<path d="M282.5,4 L284.5,1.5 L286.5,4 Z" fill="#555" shape-rendering="geometricPrecision"/>
<path d="M294,11.5 L296.5,13.5 L294,15.5 Z" fill="#555" shape-rendering="geometricPrecision"/>
<rect x="290" y="0" width="1" height="12" fill="#109010"/><rect x="288" y="2" width="5" height="8" fill="#109010"/><rect x="289" y="3" width="3" height="6" fill="#60e070"/>
<rect x="312" y="2" width="1" height="14" fill="#555"/>
<rect x="310" y="13" width="14" height="1" fill="#555"/>
<path d="M310.5,4 L312.5,1.5 L314.5,4 Z" fill="#555" shape-rendering="geometricPrecision"/>
<path d="M322,11.5 L324.5,13.5 L322,15.5 Z" fill="#555" shape-rendering="geometricPrecision"/>
<path d="M311,10.5 Q314,7 317,5.3 Q319,5 322.5,9.2" fill="none" stroke="#30a030" stroke-width="1.1" shape-rendering="geometricPrecision"/>
<g shape-rendering="geometricPrecision">

<path d="M352.3,9.8 L356.8,14.3" stroke="#9a6a10" stroke-width="3.4" stroke-linecap="round"/>
<path d="M352.3,9.8 L356.8,14.3" stroke="#f0d050" stroke-width="1.6" stroke-linecap="round"/>
<circle cx="348" cy="5.9" r="5.3" fill="#daf0fc" stroke="#3a80c8" stroke-width="1.2"/>
<rect x="344.5" y="5" width="7" height="1.8" fill="#3a7fb0"/>
<rect x="347.1" y="2.4" width="1.8" height="7" fill="#3a7fb0"/>

<path d="M380.3,9.8 L384.8,14.3" stroke="#9a6a10" stroke-width="3.4" stroke-linecap="round"/>
<path d="M380.3,9.8 L384.8,14.3" stroke="#f0d050" stroke-width="1.6" stroke-linecap="round"/>
<circle cx="376" cy="5.9" r="5.3" fill="#daf0fc" stroke="#3a80c8" stroke-width="1.2"/>
<rect x="372.5" y="5" width="7" height="1.8" fill="#3a7fb0"/>
</g>
<rect x="398" y="0" width="8" height="8" fill="#30a020"/>
<rect x="400" y="4" width="4" height="1" fill="#fff"/><rect x="399" y="3" width="1" height="3" fill="#fff"/><rect x="404" y="3" width="1" height="3" fill="#fff"/><rect x="399" y="6" width="6" height="1" fill="#e0f0e0"/>
<rect x="406" y="0" width="8" height="8" fill="#1050d0"/>
<rect x="408" y="4" width="4" height="1" fill="#fff"/><rect x="407" y="3" width="1" height="3" fill="#fff"/><rect x="412" y="3" width="1" height="3" fill="#fff"/><rect x="407" y="6" width="6" height="1" fill="#e0f0e0"/>
<rect x="398" y="8" width="8" height="8" fill="#1050d0"/>
<rect x="400" y="12" width="4" height="1" fill="#fff"/><rect x="399" y="11" width="1" height="3" fill="#fff"/><rect x="404" y="11" width="1" height="3" fill="#fff"/><rect x="399" y="14" width="6" height="1" fill="#e0f0e0"/>
<rect x="406" y="8" width="8" height="8" fill="#30a020"/>
<rect x="408" y="12" width="4" height="1" fill="#fff"/><rect x="407" y="11" width="1" height="3" fill="#fff"/><rect x="412" y="11" width="1" height="3" fill="#fff"/><rect x="407" y="14" width="6" height="1" fill="#e0f0e0"/>
<rect x="436" y="2" width="1" height="14" fill="#555"/>
<rect x="434" y="13" width="14" height="1" fill="#555"/>
<path d="M434.5,4 L436.5,1.5 L438.5,4 Z" fill="#555" shape-rendering="geometricPrecision"/>
<path d="M446,11.5 L448.5,13.5 L446,15.5 Z" fill="#555" shape-rendering="geometricPrecision"/>
<path d="M441.5,4 L445.5,7.5 L441.5,11 Z" fill="#70e070" stroke="#10a010" stroke-width="1" shape-rendering="geometricPrecision"/>
<rect x="464" y="2" width="1" height="14" fill="#555"/>
<rect x="462" y="13" width="14" height="1" fill="#555"/>
<path d="M462.5,4 L464.5,1.5 L466.5,4 Z" fill="#555" shape-rendering="geometricPrecision"/>
<path d="M474,11.5 L476.5,13.5 L474,15.5 Z" fill="#555" shape-rendering="geometricPrecision"/>
<rect x="470" y="2" width="1" height="10" fill="#1060a0"/>
<path d="M471.5,7.5 L474,5.5 L474,9.5 Z M473,7 H476 V8 H473 Z" fill="#e05010" shape-rendering="geometricPrecision"/>
<g shape-rendering="geometricPrecision">
<path d="M495.5,0.5 H503 L506.5,4 V13.5 H495.5 Z" fill="#fff" stroke="#777" stroke-width="1"/>
<path d="M503,0.5 V4 H506.5" fill="#ddd" stroke="#777" stroke-width="0.8"/>
<path d="M499,10 Q498.5,4 500.5,3" fill="none" stroke="#444" stroke-width="0.9"/>
<path d="M503.2,6.199999999999999 h3.6 v3.7 h3.7 v3.6 h-3.7 v3.7 h-3.6 v-3.7 h-3.7 v-3.6 h3.7 Z" fill="#20e040" stroke="#078a10" stroke-width="1"/>
<path d="M517,7 H522.5 L519.75,10 Z" fill="#000"/>
<path d="M556,7 H561.5 L558.75,10 Z" fill="#000"/>
<path d="M595,7 H600.5 L597.75,10 Z" fill="#000"/>
<path d="M901,7 H906.5 L903.75,10 Z" fill="#000"/>
<circle cx="541" cy="7.8" r="6.7" fill="#f8fbff" stroke="#1262c0" stroke-width="2.4"/>
<path d="M539.5,4 L541,8 L544,8.6" fill="none" stroke="#111" stroke-width="1.1"/>
<line x1="541.00" y1="2.80" x2="541.00" y2="3.60" stroke="#888" stroke-width="0.7"/>
<line x1="543.50" y1="3.47" x2="543.10" y2="4.16" stroke="#888" stroke-width="0.7"/>
<line x1="545.33" y1="5.30" x2="544.64" y2="5.70" stroke="#888" stroke-width="0.7"/>
<line x1="546.00" y1="7.80" x2="545.20" y2="7.80" stroke="#888" stroke-width="0.7"/>
<line x1="545.33" y1="10.30" x2="544.64" y2="9.90" stroke="#888" stroke-width="0.7"/>
<line x1="543.50" y1="12.13" x2="543.10" y2="11.44" stroke="#888" stroke-width="0.7"/>
<line x1="541.00" y1="12.80" x2="541.00" y2="12.00" stroke="#888" stroke-width="0.7"/>
<line x1="538.50" y1="12.13" x2="538.90" y2="11.44" stroke="#888" stroke-width="0.7"/>
<line x1="536.67" y1="10.30" x2="537.36" y2="9.90" stroke="#888" stroke-width="0.7"/>
<line x1="536.00" y1="7.80" x2="536.80" y2="7.80" stroke="#888" stroke-width="0.7"/>
<line x1="536.67" y1="5.30" x2="537.36" y2="5.70" stroke="#888" stroke-width="0.7"/>
<line x1="538.50" y1="3.47" x2="538.90" y2="4.16" stroke="#888" stroke-width="0.7"/>
<rect x="572.5" y="1.5" width="15" height="13" fill="#fff" stroke="#3a70c0" stroke-width="1"/>
<rect x="573" y="2" width="14" height="2" fill="#5090d8"/>
<rect x="573" y="9" width="14" height="1" fill="#3a70c0"/>
<path d="M574,7.2 L576,7 L578,6.2 L580,6.8 L582,5.8 L584,6.5 L586,5.5" fill="none" stroke="#a02010" stroke-width="0.9"/>
<path d="M575,12.5 L577,12 L579,12.3 L581,11.2 L583,12.3 L584.5,10.6 L586,12.3" fill="none" stroke="#10a020" stroke-width="0.9"/>
<path d="M624.2,1 L624.2,12 L626.7,9.7 L629,14.8 L631,14 L628.8,8.8 L632.2,8.6 Z" fill="#505050"/>
</g>
<rect x="656" y="1" width="1" height="6" fill="#555"/><rect x="656" y="10" width="1" height="6" fill="#555"/><rect x="649" y="8" width="6" height="1" fill="#555"/><rect x="658" y="8" width="6" height="1" fill="#555"/>
<rect x="690" y="2" width="1" height="13" fill="#555"/>
<rect x="713" y="8" width="12" height="1" fill="#555"/>
<g shape-rendering="geometricPrecision">
<line x1="741" y1="15" x2="753" y2="3" stroke="#555" stroke-width="1.1"/>
<path d="M767,9.5 L775,1.5 M767.5,14 L779.5,2 M772,14.5 L781,6" fill="none" stroke="#555" stroke-width="1"/>
<path d="M769.5,8 V12.5 M772.5,5.5 V10 M775.5,3 V7.5 M778.5,0 V4.5" stroke="#555" stroke-width="0.9"/>
</g>
<text x="777.5" y="17" font-size="6.5" font-weight="bold" fill="#555">E</text>
<rect x="796" y="1" width="1" height="1" fill="#555"/>
<rect x="798" y="1" width="1" height="1" fill="#555"/>
<rect x="800" y="1" width="1" height="1" fill="#555"/>
<rect x="802" y="1" width="1" height="1" fill="#555"/>
<rect x="804" y="1" width="1" height="1" fill="#555"/>
<rect x="806" y="1" width="1" height="1" fill="#555"/>
<rect x="808" y="1" width="1" height="1" fill="#555"/>
<rect x="796" y="4" width="1" height="1" fill="#555"/>
<rect x="798" y="4" width="1" height="1" fill="#555"/>
<rect x="800" y="4" width="1" height="1" fill="#555"/>
<rect x="802" y="4" width="1" height="1" fill="#555"/>
<rect x="804" y="4" width="1" height="1" fill="#555"/>
<rect x="806" y="4" width="1" height="1" fill="#555"/>
<rect x="808" y="4" width="1" height="1" fill="#555"/>
<rect x="796" y="8" width="1" height="1" fill="#555"/>
<rect x="798" y="8" width="1" height="1" fill="#555"/>
<rect x="800" y="8" width="1" height="1" fill="#555"/>
<rect x="802" y="8" width="1" height="1" fill="#555"/>
<rect x="804" y="8" width="1" height="1" fill="#555"/>
<rect x="806" y="8" width="1" height="1" fill="#555"/>
<rect x="808" y="8" width="1" height="1" fill="#555"/>
<rect x="796" y="12" width="1" height="1" fill="#555"/>
<rect x="798" y="12" width="1" height="1" fill="#555"/>
<rect x="800" y="12" width="1" height="1" fill="#555"/>
<rect x="802" y="12" width="1" height="1" fill="#555"/>
<rect x="804" y="12" width="1" height="1" fill="#555"/>
<text x="805.5" y="17" font-size="6.5" font-weight="bold" fill="#555">F</text>
<text x="826.6" y="13" font-size="12" fill="#555" stroke="#555" stroke-width="0.5">A</text>
<rect x="853" y="2" width="1" height="1" fill="#555"/><rect x="853" y="14" width="1" height="1" fill="#555"/>
<rect x="855" y="2" width="1" height="1" fill="#555"/><rect x="855" y="14" width="1" height="1" fill="#555"/>
<rect x="857" y="2" width="1" height="1" fill="#555"/><rect x="857" y="14" width="1" height="1" fill="#555"/>
<rect x="859" y="2" width="1" height="1" fill="#555"/><rect x="859" y="14" width="1" height="1" fill="#555"/>
<rect x="861" y="2" width="1" height="1" fill="#555"/><rect x="861" y="14" width="1" height="1" fill="#555"/>
<rect x="863" y="2" width="1" height="1" fill="#555"/><rect x="863" y="14" width="1" height="1" fill="#555"/>
<rect x="853" y="2" width="1" height="1" fill="#555"/><rect x="864" y="2" width="1" height="1" fill="#555"/>
<rect x="853" y="4" width="1" height="1" fill="#555"/><rect x="864" y="4" width="1" height="1" fill="#555"/>
<rect x="853" y="6" width="1" height="1" fill="#555"/><rect x="864" y="6" width="1" height="1" fill="#555"/>
<rect x="853" y="8" width="1" height="1" fill="#555"/><rect x="864" y="8" width="1" height="1" fill="#555"/>
<rect x="853" y="10" width="1" height="1" fill="#555"/><rect x="864" y="10" width="1" height="1" fill="#555"/>
<rect x="853" y="12" width="1" height="1" fill="#555"/><rect x="864" y="12" width="1" height="1" fill="#555"/>
<rect x="853" y="14" width="1" height="1" fill="#555"/><rect x="864" y="14" width="1" height="1" fill="#555"/>
<rect x="855" y="5" width="8" height="1.6" fill="#555"/><rect x="858" y="5" width="2" height="8" fill="#555"/>
<g shape-rendering="geometricPrecision">
<path d="M880.5,6 L883.5,2 L886.5,6 Z" fill="#555"/>
<path d="M882,9 L884.3,11.3 L888.5,6.5" fill="none" stroke="#555" stroke-width="1.2"/>
<path d="M887.5,10 H894 L890.75,14.5 Z" fill="#555"/>
</g>
<text x="928" y="12" font-size="9.3" fill="#303030">M1</text>
<text x="955.5" y="12" font-size="9.3" fill="#303030">M5</text>
<text x="981.5" y="12" font-size="9.3" fill="#303030">M15</text>
<text x="1009.5" y="12" font-size="9.3" fill="#303030">M30</text>
<text x="1040" y="12" font-size="9.3" fill="#303030">H1</text>
<text x="1068" y="12" font-size="9.3" fill="#303030">H4</text>
<text x="1096.5" y="12" font-size="9.3" fill="#303030">D1</text>
<text x="1124" y="12" font-size="9.3" fill="#303030">W1</text>
<text x="1150.5" y="12" font-size="9.3" fill="#303030">MN</text>
<g shape-rendering="geometricPrecision">
<line x1="1640.3" y1="8.8" x2="1636.3" y2="12.8" stroke="#2060d0" stroke-width="2.4" stroke-linecap="round"/>
<circle cx="1643.6" cy="5.5" r="3.6" fill="#fafcff" stroke="#2a66d8" stroke-width="1.3"/>
<path d="M1663.5,14.5 Q1660,13.5 1660.2,10 Q1660.5,5.5 1666,5.3 Q1671,5.5 1671.5,10 Q1671,14 1666,14.3 L1663.5,16.5 Z" fill="#e4e4ec" stroke="#9a9a9a" stroke-width="0.9"/>
<circle cx="1674.3" cy="6" r="8" fill="url(#badge)"/>
<path d="M1671.5,9.8 H1676.5 M1674,9.8 V1.5 L1672,2.6" fill="none" stroke="#fff" stroke-width="1.3"/>
</g>
</svg>
</body></html>
